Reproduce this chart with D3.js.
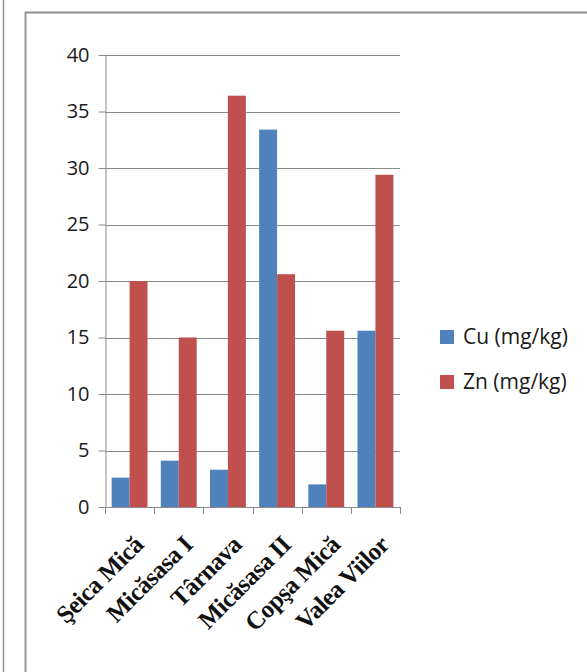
<!DOCTYPE html>
<html>
<head>
<meta charset="utf-8">
<script src="https://cdn.jsdelivr.net/npm/d3@7"></script>
<style>
  html, body { margin: 0; padding: 0; background: #fff; }
  svg { display: block; }
</style>
</head>
<body>
<svg id="chart" width="587" height="672"></svg>
<script>
// Heavy-metal content at each sampling site
const sites = ["Şeica Mică", "Micăsasa I", "Târnava", "Micăsasa II", "Copşa Mică", "Valea Viilor"];
const cuValues = [2.6, 4.1, 3.3, 33.4, 2.0, 15.6];
const znValues = [20.0, 15.0, 36.4, 20.6, 15.6, 29.4];
const seriesNames = ["Cu (mg/kg)", "Zn (mg/kg)"];
const seriesColors = ["#4F81BD", "#C0504D"];
const yTicks = [0, 5, 10, 15, 20, 25, 30, 35, 40];

const svg = d3.select("#chart");
const W = 587, H = 672;
const plot = { left: 105, right: 400, top: 55, bottom: 507 };

// outer frames
svg.append("line").attr("x1", 3.5).attr("x2", 3.5).attr("y1", 0).attr("y2", H)
  .attr("stroke", "#8f8f8f").attr("stroke-width", 1.5);
svg.append("path").attr("d", `M25.5,${H} V12.5 H${W}`)
  .attr("fill", "none").attr("stroke", "#8f8f8f").attr("stroke-width", 1.8);

const x = d3.scaleBand().domain(sites).range([plot.left, plot.right]).paddingInner(0).paddingOuter(0);
const inner = d3.scaleBand().domain(seriesNames).range([0, x.bandwidth()]).paddingInner(0).paddingOuter(0.37);
const y = d3.scaleLinear().domain([0, 40]).range([plot.bottom, plot.top]);

// horizontal gridlines
svg.append("g").selectAll("line").data(yTicks.filter(d => d > 0)).join("line")
  .attr("x1", plot.left).attr("x2", plot.right)
  .attr("y1", d => Math.round(y(d)) + 0.5).attr("y2", d => Math.round(y(d)) + 0.5)
  .attr("stroke", "#8a8a8a").attr("stroke-width", 1);

// bars
const rows = sites.map((s, i) => ({ site: s, vals: [cuValues[i], znValues[i]] }));
const groups = svg.append("g").selectAll("g").data(rows).join("g")
  .attr("transform", d => `translate(${x(d.site)},0)`);
groups.selectAll("rect").data(d => d.vals.map((v, k) => ({ v, k }))).join("rect")
  .attr("x", d => inner(seriesNames[d.k]))
  .attr("width", inner.bandwidth())
  .attr("y", d => y(d.v))
  .attr("height", d => y(0) - y(d.v))
  .attr("fill", d => seriesColors[d.k]);

// y axis
const yAxis = svg.append("g").attr("transform", `translate(${plot.left + 0.5},0)`)
  .call(d3.axisLeft(y).tickValues(yTicks).tickSize(7).tickPadding(9).tickSizeOuter(0));
yAxis.select(".domain").attr("stroke", "#8a8a8a");
yAxis.selectAll(".tick line").attr("stroke", "#8a8a8a");
yAxis.selectAll(".tick text")
  .attr("font-family", "'Open Sans', sans-serif").attr("font-size", 20).attr("fill", "#1a1a1a");

// x axis with ticks at category boundaries
svg.append("line").attr("x1", plot.left).attr("x2", plot.right + 0.5)
  .attr("y1", plot.bottom + 0.5).attr("y2", plot.bottom + 0.5).attr("stroke", "#8a8a8a");
const bounds = sites.map(s => x(s)).concat([plot.right]);
svg.append("g").selectAll("line").data(bounds).join("line")
  .attr("x1", d => Math.round(d) + 0.5).attr("x2", d => Math.round(d) + 0.5)
  .attr("y1", plot.bottom).attr("y2", plot.bottom + 7)
  .attr("stroke", "#8a8a8a");

// rotated category labels
svg.append("g").selectAll("text").data(sites).join("text")
  .attr("transform", d => `translate(${x(d) + x.bandwidth() / 2 + 9},540) rotate(-45)`)
  .attr("text-anchor", "end").attr("dy", "0.35em")
  .attr("font-family", "'Liberation Serif', 'Times New Roman', serif")
  .attr("font-weight", "bold").attr("font-size", 25).attr("fill", "#111")
  .attr("letter-spacing", -0.5)
  .text(d => d);

// legend
const legend = svg.append("g").selectAll("g").data(seriesNames).join("g")
  .attr("transform", (d, i) => `translate(440,${337 + i * 45})`);
legend.append("rect").attr("x", 0).attr("y", -7).attr("width", 14).attr("height", 14)
  .attr("fill", (d, i) => seriesColors[i]);
legend.append("text").attr("x", 23).attr("y", 0).attr("dy", "0.35em")
  .attr("font-family", "'Open Sans', sans-serif").attr("font-size", 21).attr("fill", "#1a1a1a")
  .text(d => d);
</script>
</body>
</html>
